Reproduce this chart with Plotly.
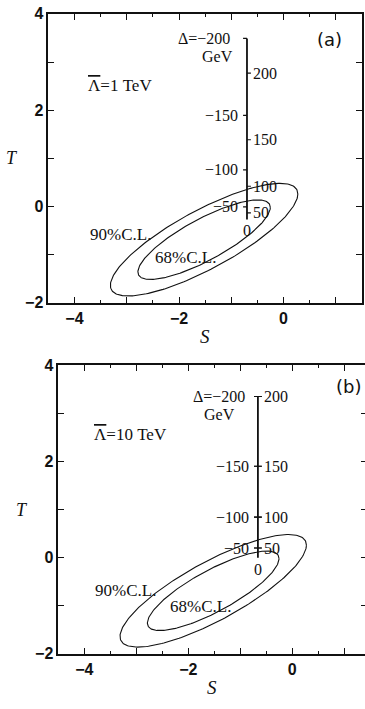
import numpy as np
import plotly.graph_objects as go

# ---- confidence ellipses in the (S, T) plane (same fit in both panels) ----
S_CENTER = -1.52
T_CENTER = -0.69
SIGMA_S = 0.835
SIGMA_T = 0.545
RHO = 0.81
DCHI2 = [2.30, 4.61]          # 68% and 90% C.L. for two parameters

# ---- Delta scale drawn inside panel (a): Lambda-bar = 1 TeV ----
A_AXIS_S = -0.70
A_NEG_DELTA = [-200, -150, -100, -50]
A_NEG_T = [3.49, 1.89, 0.76, -0.01]
A_POS_DELTA = [200, 150, 100, 50]
A_POS_T = [2.77, 1.385, 0.42, -0.135]
A_ZERO_T = -0.27

# ---- Delta scale drawn inside panel (b): Lambda-bar = 10 TeV ----
B_AXIS_S = -0.66
B_NEG_DELTA = [-200, -150, -100, -50]
B_NEG_T = [3.35, 1.90, 0.84, 0.20]
B_POS_DELTA = [200, 150, 100, 50]
B_POS_T = [3.35, 1.90, 0.84, 0.20]
B_ZERO_T = 0.0

# ---- frame ticks ----
X_TICKS = [-4, -3, -2, -1, 0, 1]
X_TICKTEXT = ["\u22124", "", "\u22122", "", "0", ""]
Y_TICKS = [-2, -1, 0, 1, 2, 3, 4]
Y_TICKTEXT = ["\u22122", "", "0", "", "2", "", "4"]

SERIF = "Liberation Serif, Times New Roman, serif"
SANS = "Liberation Sans"
INK = "#111111"
LAMBDA_BAR = "<span style='text-decoration:overline'>\u039b</span>"


def fmt(v):
    return ("\u2212" + str(-v)) if v < 0 else str(v)


def ellipse(dchi2, n=240):
    k = np.sqrt(dchi2)
    t = np.linspace(0, 2 * np.pi, n)
    s = S_CENTER + k * SIGMA_S * np.cos(t)
    tt = T_CENTER + k * SIGMA_T * (RHO * np.cos(t) + np.sqrt(1 - RHO ** 2) * np.sin(t))
    return s, tt


fig = go.Figure()
annotations = []


def add_panel(xa, ya, axis_s, neg_d, neg_t, pos_d, pos_t, zero_t, both_sides,
              lam_text, lam_pos, tag, tag_pos, cl_pos, gev_shift, top_shift):
    xr, yr = xa.replace("axis", ""), ya.replace("axis", "")
    # ellipses
    for d in DCHI2:
        s, t = ellipse(d)
        fig.add_trace(go.Scatter(x=s, y=t, mode="lines", xaxis=xr, yaxis=yr,
                                 line=dict(color=INK, width=1.1),
                                 hoverinfo="skip", showlegend=False))
    # Delta axis line
    top_t = max(max(neg_t), max(pos_t))
    fig.add_trace(go.Scatter(x=[axis_s, axis_s], y=[zero_t, top_t], mode="lines",
                             xaxis=xr, yaxis=yr, line=dict(color=INK, width=1.8),
                             hoverinfo="skip", showlegend=False))
    # tick marks on the Delta axis
    tl = 0.075
    tx, ty = [], []
    for t in neg_t:
        tx += [axis_s - tl, axis_s + (tl if both_sides else 0), None]
        ty += [t, t, None]
    for t in pos_t:
        tx += [axis_s - (tl if both_sides else 0), axis_s + tl, None]
        ty += [t, t, None]
    fig.add_trace(go.Scatter(x=tx, y=ty, mode="lines", xaxis=xr, yaxis=yr,
                             line=dict(color=INK, width=1.2),
                             hoverinfo="skip", showlegend=False))
    # Delta labels
    for i, (d, t) in enumerate(zip(neg_d, neg_t)):
        txt = ("\u0394=" + fmt(d)) if i == 0 else fmt(d)
        annotations.append(dict(x=axis_s, y=t, xref=xr, yref=yr, text=txt,
                                showarrow=False, xanchor="right", yanchor="middle",
                                xshift=-7 + (top_shift if i == 0 else 0),
                                font=dict(family=SERIF, size=16, color=INK)))
    for d, t in zip(pos_d, pos_t):
        annotations.append(dict(x=axis_s, y=t, xref=xr, yref=yr, text=fmt(d),
                                showarrow=False, xanchor="left", yanchor="middle",
                                xshift=4, font=dict(family=SERIF, size=16, color=INK)))
    annotations.append(dict(x=axis_s, y=zero_t, xref=xr, yref=yr, text="0",
                            showarrow=False, xanchor="center", yanchor="top",
                            yshift=-1, font=dict(family=SERIF, size=16, color=INK)))
    annotations.append(dict(x=axis_s, y=neg_t[0], xref=xr, yref=yr, text="GeV",
                            showarrow=False, xanchor="right", yanchor="middle",
                            xshift=gev_shift, yshift=-18,
                            font=dict(family=SERIF, size=16, color=INK)))
    # labels
    annotations.append(dict(x=lam_pos[0], y=lam_pos[1], xref=xr, yref=yr,
                            text=lam_text, showarrow=False, xanchor="left",
                            yanchor="middle", font=dict(family=SERIF, size=17, color=INK)))
    annotations.append(dict(x=tag_pos[0], y=tag_pos[1], xref=xr, yref=yr, text=tag,
                            showarrow=False, xanchor="center", yanchor="middle",
                            font=dict(family="DejaVu Sans, sans-serif", size=18, color=INK)))
    for txt, (sx, sy) in zip(["90%C.L.", "68%C.L."], cl_pos):
        annotations.append(dict(x=sx, y=sy, xref=xr, yref=yr, text=txt,
                                showarrow=False, xanchor="center", yanchor="middle",
                                font=dict(family=SERIF, size=17, color=INK)))
    # axis titles
    annotations.append(dict(x=0.5, y=0, xref=xr + " domain", yref=yr + " domain",
                            text="<i>S</i>", showarrow=False, yanchor="middle",
                            yshift=-34, font=dict(family=SERIF, size=19, color=INK)))
    annotations.append(dict(x=0, y=0.5, xref=xr + " domain", yref=yr + " domain",
                            text="<i>T</i>", showarrow=False, xanchor="center",
                            xshift=-36, font=dict(family=SERIF, size=18, color=INK)))


add_panel("xaxis", "yaxis", A_AXIS_S, A_NEG_DELTA, A_NEG_T, A_POS_DELTA, A_POS_T,
          A_ZERO_T, False, LAMBDA_BAR + "=1 TeV", (-3.78, 2.52), "(a)", (0.87, 3.47),
          [(-3.11, -0.58), (-1.88, -1.06)], -12, -8)
add_panel("xaxis2", "yaxis2", B_AXIS_S, B_NEG_DELTA, B_NEG_T, B_POS_DELTA, B_POS_T,
          B_ZERO_T, True, LAMBDA_BAR + "=10 TeV", (-3.85, 2.56), "(b)", (1.09, 3.55),
          [(-3.2, -0.68), (-1.76, -1.02)], -21, -4)

# right-hand frame ticks of panel (b), whose border lies just past the edge
fig.add_trace(go.Scatter(x=[None], y=[None], xaxis="x2", yaxis="y3",
                         showlegend=False, hoverinfo="skip"))

frame = dict(showline=True, linecolor=INK, linewidth=1.5, mirror="ticks",
             ticks="inside", ticklen=6, tickwidth=1.1, tickcolor=INK,
             showgrid=False, zeroline=False,
             tickfont=dict(family=SANS, size=16, color=INK, weight="bold"))
xframe = dict(frame, tickmode="array", tickvals=X_TICKS, ticktext=X_TICKTEXT,
              minor=dict(dtick=0.5, ticks="inside", ticklen=3, tickcolor=INK,
                         tickwidth=1.0))
yframe = dict(frame, tickmode="array", tickvals=Y_TICKS, ticktext=Y_TICKTEXT,
              range=[-2, 4])

W, H = 365, 709
fig.update_layout(
    width=W, height=H, margin=dict(l=0, r=0, t=0, b=0),
    paper_bgcolor="white", plot_bgcolor="white", showlegend=False,
    xaxis=dict(xframe, range=[-4.5, 1.5], domain=[48.3 / W, 362 / W], anchor="y"),
    yaxis=dict(yframe, domain=[1 - 302 / H, 1 - 6 / H], anchor="x"),
    xaxis2=dict(xframe, range=[-4.5, 1.4], domain=[58.3 / W, 1.0], anchor="y2"),
    yaxis2=dict(yframe, mirror=False, domain=[1 - 661.7 / H, 1 - 366 / H], anchor="x2"),
    yaxis3=dict(overlaying="y2", side="right", anchor="x2", range=[-2, 4],
                tickmode="array", tickvals=Y_TICKS, ticks="inside", ticklen=4,
                tickcolor=INK, tickwidth=1.1, showticklabels=False,
                showline=False, showgrid=False, zeroline=False),
    annotations=annotations,
)

fig.write_html("out.html")
